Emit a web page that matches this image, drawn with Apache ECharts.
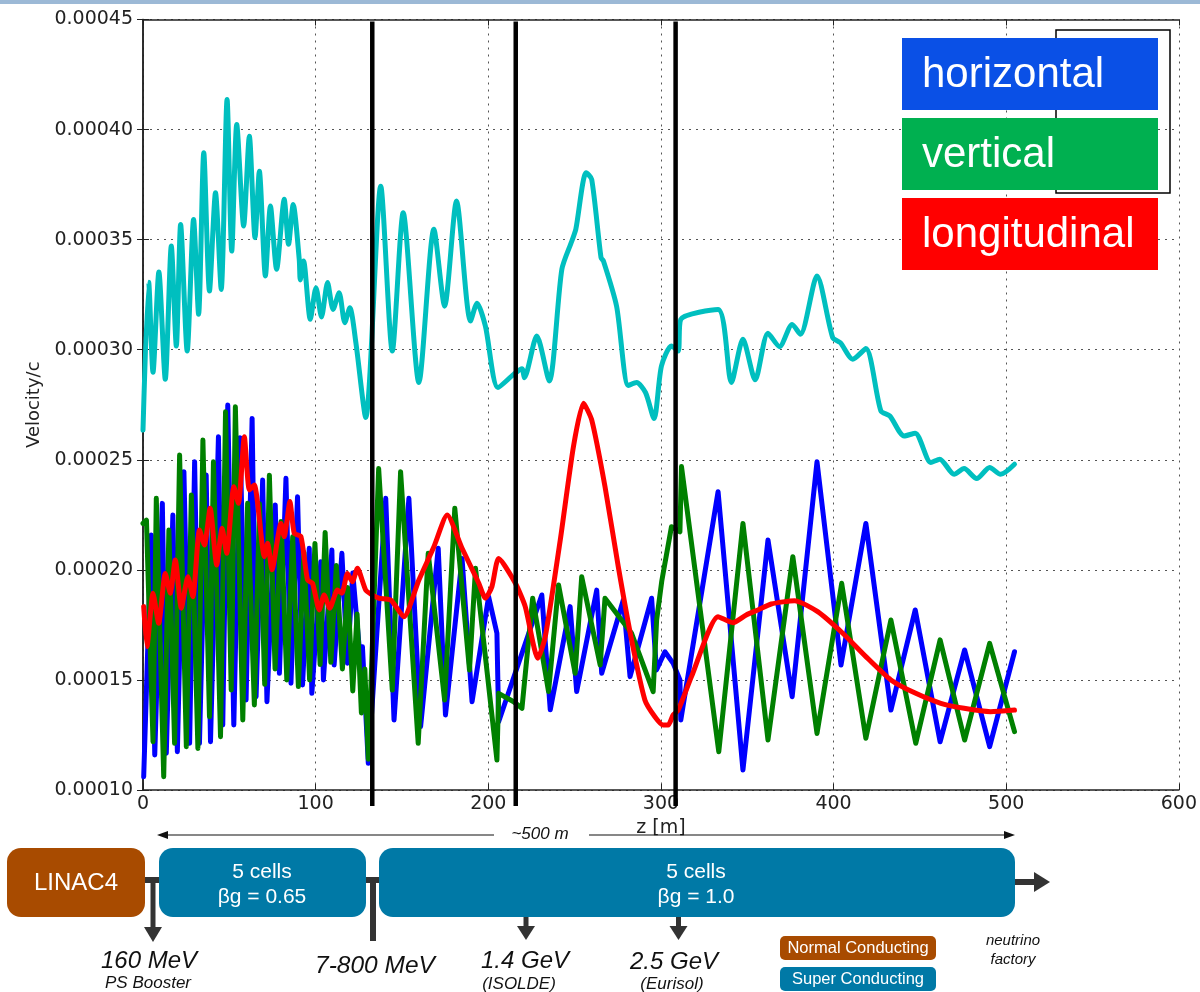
<!DOCTYPE html>
<html><head><meta charset="utf-8">
<script src="https://cdn.jsdelivr.net/npm/echarts@6/dist/echarts.min.js"></script>
<style>html,body{margin:0;padding:0;background:#fff}#c{width:1200px;height:992px}</style>
</head><body><div id="c"></div>
<script>
// z [m] , velocity/c
const yMin = 0.0001, yMax = 0.00045, yStep = 0.00005;
const xMin = 0, xMax = 600, xStep = 100;
const sectionLines = [132.8, 215.9, 308.5];
const legendNames = ['horizontal', 'vertical', 'longitudinal'];

const cyan = [[0,2.635e-4],[3.3,3.306e-4],[5.8,2.898e-4],[9.2,3.353e-4],[12.9,2.866e-4],[16.4,3.471e-4],[19.3,3.017e-4],[21.8,3.569e-4],[25.6,2.994e-4],[29.3,3.592e-4],[32.2,3.161e-4],[35.2,3.895e-4],[38.5,3.267e-4],[42.0,3.713e-4],[45.3,3.274e-4],[48.7,4.137e-4],[51.4,3.448e-4],[54.3,4.023e-4],[58.3,3.562e-4],[61.6,3.970e-4],[64.9,3.509e-4],[67.4,3.811e-4],[70.9,3.335e-4],[73.8,3.653e-4],[77.4,3.365e-4],[81.8,3.683e-4],[84.3,3.479e-4],[87.0,3.660e-4],[90.5,3.41e-4],[91.1,3.317e-4],[93.0,3.403e-4],[96.9,3.138e-4],[100.2,3.282e-4],[103.4,3.149e-4],[106.9,3.305e-4],[110.1,3.183e-4],[113.6,3.259e-4],[116.9,3.123e-4],[119.8,3.191e-4],[123.3,3.032e-4],[129.0,2.692e-4],[137.7,3.743e-4],[144.4,2.994e-4],[150.7,3.622e-4],[159.8,2.851e-4],[168.5,3.547e-4],[174.7,3.198e-4],[181.6,3.675e-4],[189.7,3.130e-4],[193.5,3.211e-4],[198.3,3.108e-4],[205.6,2.828e-4],[214.7,2.888e-4],[219.5,2.914e-4],[220.9,2.873e-4],[228.1,3.062e-4],[235.3,2.858e-4],[242.6,3.365e-4],[248.4,3.494e-4],[250.7,3.547e-4],[256.7,3.804e-4],[259.9,3.774e-4],[265.3,3.418e-4],[266.7,3.403e-4],[274.3,3.198e-4],[281.1,2.838e-4],[285.9,2.851e-4],[291.1,2.805e-4],[296.0,2.687e-4],[300.3,2.926e-4],[306.1,3.017e-4],[310.0,2.994e-4],[311.5,3.138e-4],[333.1,3.183e-4],[340.8,2.851e-4],[347.5,3.047e-4],[354.6,2.863e-4],[362.0,3.075e-4],[368.7,3.014e-4],[376.0,3.115e-4],[380.8,3.070e-4],[390.4,3.335e-4],[399.5,3.055e-4],[403.9,3.032e-4],[411.1,2.957e-4],[418.7,3.005e-4],[427.4,2.722e-4],[432.6,2.699e-4],[440.9,2.608e-4],[447.3,2.621e-4],[456.3,2.488e-4],[461.5,2.503e-4],[469.8,2.434e-4],[475.6,2.460e-4],[482.9,2.415e-4],[490.4,2.465e-4],[496.7,2.434e-4],[504.8,2.480e-4]];

const horizontal = [[0.4,1.060e-4],[4.8,2.158e-4],[6.8,1.159e-4],[11.2,2.302e-4],[13.5,1.167e-4],[17.3,2.249e-4],[19.9,1.174e-4],[23.7,2.446e-4],[27.0,1.212e-4],[29.9,2.491e-4],[32.7,1.212e-4],[36.6,2.431e-4],[39.1,1.219e-4],[43.7,2.605e-4],[46.2,1.295e-4],[49.1,2.749e-4],[52.6,1.295e-4],[56.2,2.60e-4],[59.7,1.409e-4],[63.2,2.688e-4],[65.5,1.424e-4],[69.3,2.408e-4],[71.8,1.401e-4],[76.6,2.295e-4],[79.0,1.530e-4],[82.8,2.416e-4],[85.7,1.485e-4],[89.5,2.332e-4],[92.4,1.477e-4],[96.3,2.098e-4],[97.8,1.439e-4],[103.0,2.037e-4],[104.5,1.500e-4],[109.4,2.090e-4],[110.7,1.568e-4],[115.2,2.075e-4],[118.4,1.576e-4],[121.5,1.986e-4],[125.2,1.651e-4],[127.1,1.651e-4],[130.5,1.121e-4],[140.6,2.325e-4],[145.4,1.318e-4],[154.0,2.325e-4],[160.8,1.288e-4],[171.0,2.098e-4],[175.2,1.341e-4],[184.8,2.052e-4],[190.6,1.401e-4],[200.2,1.878e-4],[205.0,1.712e-4],[206.0,1.310e-4],[231.0,1.886e-4],[235.9,1.364e-4],[247.4,1.833e-4],[251.2,1.447e-4],[262.8,1.908e-4],[265.7,1.530e-4],[278.2,1.863e-4],[282.1,1.515e-4],[294.6,1.871e-4],[297.4,1.545e-4],[302.3,1.628e-4],[307.1,1.575e-4],[311.0,1.500e-4],[311.5,1.318e-4],[333.1,2.355e-4],[347.5,1.091e-4],[362.0,2.136e-4],[376.0,1.424e-4],[390.4,2.491e-4],[404.3,1.568e-4],[418.7,2.211e-4],[433.2,1.363e-4],[447.3,1.818e-4],[461.7,1.219e-4],[475.9,1.636e-4],[490.4,1.197e-4],[504.8,1.628e-4]];

const vertical = [[0,2.211e-4],[2.0,2.226e-4],[5.8,1.219e-4],[7.7,2.325e-4],[12.0,1.060e-4],[15.0,2.181e-4],[18.3,1.212e-4],[21.2,2.522e-4],[25.1,1.197e-4],[28.0,2.340e-4],[31.8,1.189e-4],[34.7,2.590e-4],[38.5,1.333e-4],[40.8,2.491e-4],[44.9,1.242e-4],[47.8,2.718e-4],[51.1,1.454e-4],[53.5,2.741e-4],[57.8,1.318e-4],[60.6,2.302e-4],[64.5,1.386e-4],[67.5,2.30e-4],[70.5,1.48e-4],[73.2,2.43e-4],[76.5,1.55e-4],[80.0,2.22e-4],[83.3,1.50e-4],[86.7,2.15e-4],[90.0,1.47e-4],[93.2,2.08e-4],[96.5,1.50e-4],[99.6,2.12e-4],[102.6,1.57e-4],[105.5,2.17e-4],[108.8,1.58e-4],[112.0,2.02e-4],[115.5,1.55e-4],[118.5,1.92e-4],[121.5,1.45e-4],[124.0,1.80e-4],[126.5,1.35e-4],[128.5,1.55e-4],[130.5,1.14e-4],[136.5,2.46e-4],[144.4,1.454e-4],[149.2,2.446e-4],[159.4,1.212e-4],[165.2,2.075e-4],[174.7,1.409e-4],[180.6,2.280e-4],[189.1,1.545e-4],[192.6,2.007e-4],[205.0,1.136e-4],[206.0,1.439e-4],[214.7,1.401e-4],[219.5,1.371e-4],[225.7,1.871e-4],[234.9,1.447e-4],[240.7,1.931e-4],[250.3,1.530e-4],[254.1,1.969e-4],[264.8,1.568e-4],[267.6,1.871e-4],[283.0,1.712e-4],[295.5,1.447e-4],[297.5,1.772e-4],[300.5,1.95e-4],[306.1,2.196e-4],[311.0,2.173e-4],[311.9,2.469e-4],[333.5,1.174e-4],[347.5,2.211e-4],[362.0,1.227e-4],[376.4,2.060e-4],[390.4,1.257e-4],[404.7,1.939e-4],[418.7,1.235e-4],[433.2,1.772e-4],[447.6,1.212e-4],[461.7,1.682e-4],[475.9,1.227e-4],[490.4,1.666e-4],[504.8,1.265e-4]];

const longitudinal = [[0.4,1.833e-4],[2.3,1.651e-4],[5.8,1.894e-4],[9.1,1.757e-4],[12.9,1.984e-4],[15.8,1.894e-4],[18.7,2.045e-4],[22.2,1.826e-4],[26.0,1.969e-4],[28.9,1.878e-4],[32.7,2.181e-4],[35.6,2.113e-4],[38.9,2.280e-4],[42.7,2.022e-4],[45.8,2.189e-4],[48.5,2.075e-4],[52.6,2.378e-4],[55.3,2.302e-4],[58.7,2.605e-4],[61.6,2.363e-4],[64.5,2.385e-4],[70.3,2.060e-4],[72.2,2.121e-4],[74.7,2.000e-4],[79.9,2.211e-4],[81.8,2.151e-4],[85.1,2.310e-4],[87.6,2.166e-4],[91.5,2.151e-4],[95.3,1.954e-4],[98.2,1.939e-4],[102.1,1.818e-4],[104.9,1.886e-4],[108.2,1.826e-4],[112.6,1.908e-4],[115.2,1.894e-4],[118.4,1.984e-4],[121.3,1.946e-4],[124.2,2.007e-4],[129.0,1.908e-4],[132.8,1.886e-4],[136.7,1.871e-4],[143.5,1.863e-4],[151.1,1.787e-4],[159.8,1.954e-4],[168.5,2.105e-4],[176.2,2.249e-4],[184.8,2.098e-4],[194.5,1.939e-4],[198.3,1.871e-4],[202.1,1.924e-4],[206.0,2.052e-4],[215.7,1.939e-4],[221.4,1.833e-4],[228.7,1.598e-4],[233.0,1.696e-4],[241.7,2.136e-4],[249.3,2.559e-4],[255.1,2.757e-4],[259.9,2.681e-4],[267.6,2.378e-4],[275.3,2.014e-4],[283.0,1.681e-4],[290.7,1.409e-4],[296.5,1.333e-4],[301.3,1.295e-4],[304.2,1.295e-4],[307.1,1.341e-4],[310.0,1.363e-4],[317.7,1.515e-4],[333.1,1.787e-4],[341.7,1.760e-4],[349.4,1.795e-4],[356.2,1.818e-4],[363.9,1.845e-4],[377.4,1.860e-4],[390.8,1.810e-4],[405.3,1.712e-4],[418.7,1.606e-4],[433.2,1.500e-4],[447.6,1.439e-4],[462.1,1.394e-4],[475.6,1.371e-4],[490.9,1.356e-4],[504.8,1.363e-4]];

const chart = echarts.init(document.getElementById('c'), null, {renderer:'canvas'});
const tickFont = 'DejaVu Sans';
const dia = '"Liberation Sans", Arial, sans-serif';
const TEAL = '#0079a6', BROWN = '#a84b00', DARK = '#333333';

function mkSeries(name, data, color, z, smooth){
  return {name, type:'line', data, symbol:'none', showSymbol:false, z, animation:false, smooth: smooth || false,
    lineStyle:{color, width:5, cap:'round', join:'round'}, itemStyle:{color}};
}
function txt(text, x, y, size, opts){
  opts = opts || {};
  return {type:'text', z:200, style:{text, x, y, fill: opts.fill || '#111',
    font: (opts.italic ? 'italic ' : '') + size + 'px ' + dia,
    align:'center', verticalAlign:'middle', textAlign:'center', textVerticalAlign:'middle'}};
}
function rrect(x, y, w, h, r, fill){ return {type:'rect', z:150, shape:{x, y, width:w, height:h, r}, style:{fill}}; }
function seg(x1, y1, x2, y2, w, c){ return {type:'line', z:149, shape:{x1,y1,x2,y2}, style:{stroke:c||DARK, lineWidth:w}}; }
function tri(pts, c){ return {type:'polygon', z:149, shape:{points:pts}, style:{fill:c||DARK}}; }

const graphics = [
  {type:'rect', shape:{x:0,y:0,width:1200,height:4}, style:{fill:'#9cb9d6'}, z:1},
  // legend
  {type:'rect', z:100, shape:{x:1056,y:30,width:114,height:163}, style:{fill:'none', stroke:'#000', lineWidth:1.5}},
  {type:'rect', z:101, shape:{x:902,y:38,width:256,height:72}, style:{fill:'#0a50e6'}},
  {type:'rect', z:101, shape:{x:902,y:118,width:256,height:72}, style:{fill:'#00b050'}},
  {type:'rect', z:101, shape:{x:902,y:198,width:256,height:72}, style:{fill:'#ff0000'}},
  {type:'text', z:102, style:{text:legendNames[0], x:922, y:75, fill:'#fff', font:'42px '+dia, verticalAlign:'middle', textVerticalAlign:'middle'}},
  {type:'text', z:102, style:{text:legendNames[1], x:922, y:155, fill:'#fff', font:'42px '+dia, verticalAlign:'middle', textVerticalAlign:'middle'}},
  {type:'text', z:102, style:{text:legendNames[2], x:922, y:235, fill:'#fff', font:'42px '+dia, verticalAlign:'middle', textVerticalAlign:'middle'}},
  // ~500 m arrow
  seg(162, 835, 494, 835, 1.2, '#111'), tri([[157,835],[168,831],[168,839]], '#111'),
  seg(589, 835, 1006, 835, 1.2, '#111'), tri([[1015,835],[1004,831],[1004,839]], '#111'),
  txt('~500 m', 540, 834, 17, {italic:true}),
  // connectors
  seg(144, 880, 161, 880, 6), seg(364, 880, 381, 880, 6),
  seg(153, 880, 153, 929, 5), tri([[144,927],[162,927],[153,942]]),
  seg(373, 880, 373, 941, 6),
  seg(526, 915, 526, 928, 5), tri([[517,926],[535,926],[526,940]]),
  seg(678.5, 915, 678.5, 928, 5), tri([[669.5,926],[687.5,926],[678.5,940]]),
  seg(1013, 882, 1036, 882, 6), tri([[1034,872],[1050,882],[1034,892]]),
  // boxes
  rrect(7, 848, 138, 69, 14, BROWN),
  rrect(159, 848, 207, 69, 14, TEAL),
  rrect(379, 848, 636, 69, 14, TEAL),
  txt('LINAC4', 76, 883, 24, {fill:'#fff'}),
  txt('5 cells', 262, 872, 21, {fill:'#fff'}),
  txt('βg = 0.65', 262, 897, 21, {fill:'#fff'}),
  txt('5 cells', 696, 872, 21, {fill:'#fff'}),
  txt('βg = 1.0', 696, 897, 21, {fill:'#fff'}),
  // labels
  txt('160 MeV', 149, 961, 24, {italic:true}),
  txt('PS Booster', 148, 983, 17, {italic:true}),
  txt('7-800 MeV', 375, 966, 24.5, {italic:true}),
  txt('1.4 GeV', 525, 961, 24, {italic:true}),
  txt('(ISOLDE)', 519, 984, 17, {italic:true}),
  txt('2.5 GeV', 674, 962, 24, {italic:true}),
  txt('(Eurisol)', 672, 984, 17, {italic:true}),
  txt('neutrino', 1013, 941, 15, {italic:true}),
  txt('factory', 1013, 960, 15, {italic:true}),
  rrect(780, 936, 156, 24, 5, BROWN),
  rrect(780, 967, 156, 24, 5, TEAL),
  txt('Normal Conducting', 858, 948, 16.5, {fill:'#fff'}),
  txt('Super Conducting', 858, 979, 16.5, {fill:'#fff'})
];

const axisLineStyle = {show:true, lineStyle:{color:'#222', width:1.5}};
const tickIn = {show:true, inside:true, length:6, lineStyle:{color:'#222', width:1}};
const gridDots = {show:true, lineStyle:{color:'#555', type:[2,5], width:1}};

const option = {
  backgroundColor:'#fff',
  animation:false,
  grid:{left:143, right:18, top:19.5, bottom:202, containLabel:false},
  xAxis:[
    {type:'value', min:xMin, max:xMax, interval:xStep, position:'bottom',
      axisLine:axisLineStyle, axisTick:tickIn, splitLine:gridDots,
      axisLabel:{color:'#222', fontFamily:tickFont, fontSize:19, margin:5},
      name:'z [m]', nameLocation:'middle', nameGap:25,
      nameTextStyle:{color:'#222', fontFamily:tickFont, fontSize:19}},
    {type:'value', min:xMin, max:xMax, interval:xStep, position:'top',
      axisLine:axisLineStyle, axisTick:tickIn, splitLine:{show:false}, axisLabel:{show:false}}
  ],
  yAxis:[
    {type:'value', min:yMin, max:yMax, interval:yStep, position:'left',
      axisLine:axisLineStyle, axisTick:tickIn, splitLine:gridDots,
      axisLabel:{color:'#222', fontFamily:tickFont, fontSize:19, margin:10, formatter:v=>v.toFixed(5)},
      name:'Velocity/c', nameLocation:'middle', nameGap:98,
      nameTextStyle:{color:'#222', fontFamily:tickFont, fontSize:18}},
    {type:'value', min:yMin, max:yMax, interval:yStep, position:'right',
      axisLine:axisLineStyle, axisTick:tickIn, splitLine:{show:false}, axisLabel:{show:false}}
  ],
  series:[
    mkSeries('total', cyan, '#00bfbf', 2, 0.25),
    mkSeries(legendNames[0], horizontal, '#0000ff', 3),
    mkSeries(legendNames[1], vertical, '#008000', 4),
    mkSeries(legendNames[2], longitudinal, '#ff0000', 5, 0.2),
    {type:'custom', name:'sections', z:10, clip:false, animation:false,
      data: sectionLines.map(z => [z, yMax]),
      renderItem(params, api){
        const zx = api.value(0);
        const p0 = api.coord([zx, yMax]);
        const p1 = api.coord([zx, yMin]);
        return {type:'line', shape:{x1:p0[0], y1:p0[1]+2, x2:p0[0], y2:p1[1]+16},
          style:{stroke:'#000', lineWidth:4.5}};
      }}
  ],
  graphic: graphics
};
chart.setOption(option);
</script></body></html>
